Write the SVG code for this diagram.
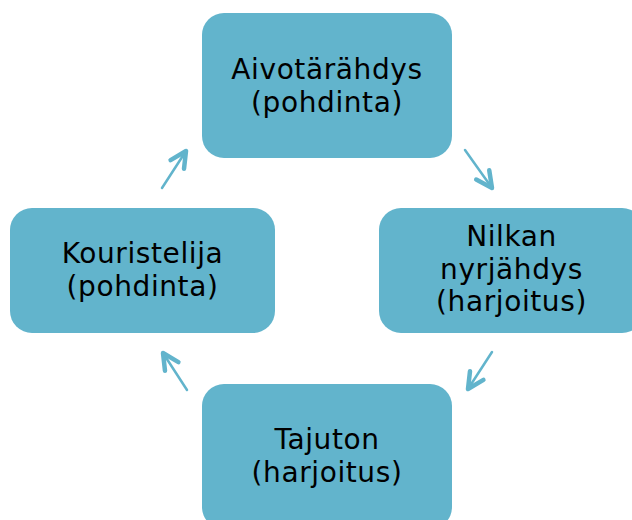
<svg xmlns="http://www.w3.org/2000/svg" width="632" height="520" viewBox="0 0 632 520">
  <style>
    .box { fill: #62b4cc; }
    .label { font-family: "DejaVu Sans", "Liberation Sans", sans-serif; font-size: 28px; letter-spacing: 0.6px; fill: #000; text-anchor: middle; }
    .conn { stroke: #62b4cc; stroke-width: 2.5; fill: none; stroke-linecap: round; marker-end: url(#head); }
  </style>
  <defs>
    <!-- open chevron arrowhead -->
    <marker id="head" markerUnits="userSpaceOnUse" markerWidth="30" markerHeight="30" viewBox="-22 -15 30 30" refX="0" refY="0" orient="auto" overflow="visible">
      <path d="M -16,-8 L 0,0 L -16,8" fill="none" stroke="#62b4cc" stroke-width="4.5" stroke-linecap="round" stroke-linejoin="round"/>
    </marker>
  </defs>

  <rect width="632" height="520" fill="#ffffff"/>

  <g id="connectors">
    <line class="conn" x1="465" y1="150" x2="492" y2="188"/>
    <line class="conn" x1="492" y1="352" x2="468" y2="389"/>
    <line class="conn" x1="187" y1="390" x2="163" y2="353"/>
    <line class="conn" x1="162" y1="188" x2="186" y2="151"/>
  </g>

  <g id="aivotarahdys">
    <rect class="box" x="202" y="13" width="250" height="145" rx="22"/>
    <text class="label" x="327" y="79">Aivotärähdys</text>
    <text class="label" x="327" y="112">(pohdinta)</text>
  </g>

  <g id="nilkan-nyrjahdys">
    <rect class="box" x="379" y="208" width="265" height="125" rx="22"/>
    <text class="label" x="511.5" y="246">Nilkan</text>
    <text class="label" x="511.5" y="278.5">nyrjähdys</text>
    <text class="label" x="511.5" y="311">(harjoitus)</text>
  </g>

  <g id="tajuton">
    <rect class="box" x="202" y="384" width="250" height="145" rx="22"/>
    <text class="label" x="327" y="449">Tajuton</text>
    <text class="label" x="327" y="481.5">(harjoitus)</text>
  </g>

  <g id="kouristelija">
    <rect class="box" x="10" y="208" width="265" height="125" rx="22"/>
    <text class="label" x="142.5" y="263">Kouristelija</text>
    <text class="label" x="142.5" y="295.5">(pohdinta)</text>
  </g>
</svg>
